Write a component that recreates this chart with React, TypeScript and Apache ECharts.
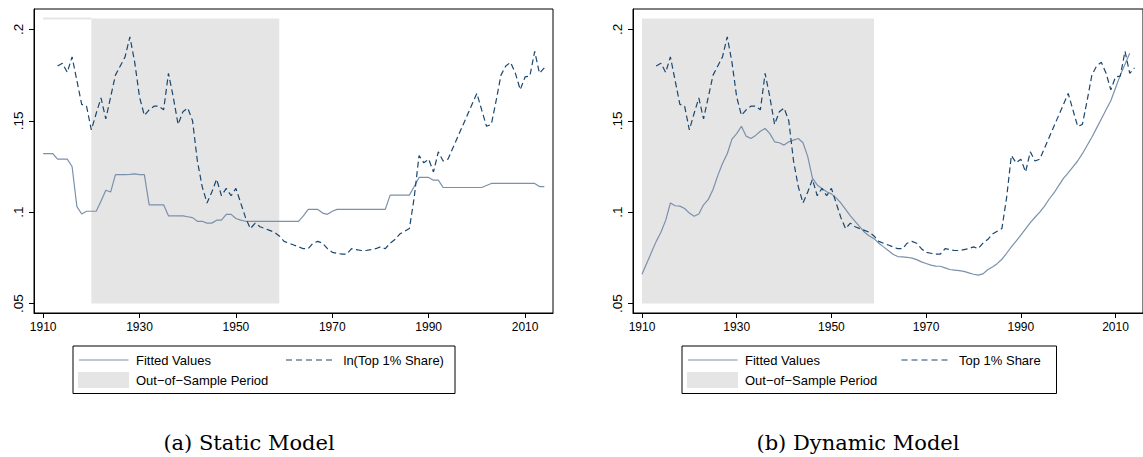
import React, { useEffect, useRef } from 'react';
import * as echarts from 'echarts';

// years and series
const fitYears = Array.from({ length: 105 }, (_, i) => 1910 + i); // 1910..2014
const fittedStatic = [
  0.132, 0.132, 0.132, 0.129, 0.129, 0.129, 0.125, 0.103, 0.099, 0.1005,
  0.1005, 0.1005, 0.106, 0.112, 0.111, 0.1205, 0.1205, 0.1205, 0.1207, 0.121,
  0.1205, 0.1205, 0.104, 0.104, 0.104, 0.104, 0.098, 0.098, 0.098, 0.098,
  0.0975, 0.097, 0.095, 0.095, 0.094, 0.094, 0.0956, 0.0956, 0.0988, 0.0988,
  0.0965, 0.0956, 0.095, 0.095, 0.095, 0.095, 0.095, 0.095, 0.095, 0.095,
  0.095, 0.095, 0.095, 0.095, 0.098, 0.1015, 0.1015, 0.1015, 0.0995, 0.0988,
  0.1005, 0.1015, 0.1015, 0.1015, 0.1015, 0.1015, 0.1015, 0.1015, 0.1015, 0.1015,
  0.1015, 0.1015, 0.1093, 0.1093, 0.1093, 0.1093, 0.1093, 0.114, 0.119, 0.119,
  0.119, 0.1175, 0.1175, 0.1135, 0.1135, 0.1135, 0.1135, 0.1135, 0.1135, 0.1135,
  0.1135, 0.1135, 0.1146, 0.1157, 0.1157, 0.1157, 0.1157, 0.1157, 0.1157, 0.1157,
  0.1157, 0.1157, 0.1157, 0.114, 0.114,
];
// 1910..2013
const fittedDynamic = [
  0.066, 0.072, 0.078, 0.084, 0.089, 0.0955, 0.105, 0.1035, 0.1033, 0.102,
  0.0995, 0.0978, 0.099, 0.104, 0.107, 0.1124, 0.12, 0.1266, 0.132, 0.14,
  0.143, 0.147, 0.1416, 0.1403, 0.142, 0.1443, 0.1458, 0.143, 0.1385, 0.138,
  0.1367, 0.1385, 0.1394, 0.1403, 0.138, 0.1304, 0.1186, 0.1149, 0.113, 0.1112,
  0.11, 0.1078, 0.105, 0.1015, 0.098, 0.095, 0.092, 0.089, 0.087, 0.0855,
  0.083, 0.081, 0.079, 0.077, 0.0757, 0.0755, 0.0753, 0.0748, 0.074, 0.0728,
  0.0719, 0.071, 0.0705, 0.0704, 0.0695, 0.0686, 0.0683, 0.068, 0.0676, 0.0668,
  0.066, 0.0655, 0.0662, 0.0685, 0.07, 0.0718, 0.0742, 0.0775, 0.081, 0.0842,
  0.0874, 0.0908, 0.0943, 0.0972, 0.1, 0.1033, 0.1072, 0.1105, 0.1145, 0.1185,
  0.1215, 0.1248, 0.128, 0.132, 0.1365, 0.141, 0.146, 0.151, 0.156, 0.161,
  0.168, 0.175, 0.181, 0.187,
];
const shareStartYear = 1913;
// 1913..2014
const top1Share = [
  0.18, 0.1815, 0.1765, 0.185, 0.172, 0.159, 0.158,
  0.145, 0.154, 0.1625, 0.151, 0.163, 0.175, 0.18, 0.185, 0.196, 0.182,
  0.163, 0.153, 0.156, 0.158, 0.158, 0.156, 0.176, 0.163, 0.148, 0.155,
  0.157, 0.15, 0.128, 0.114, 0.105, 0.111, 0.118, 0.109, 0.113, 0.109,
  0.113, 0.105, 0.097, 0.091, 0.094, 0.092, 0.091, 0.09, 0.089, 0.087,
  0.084, 0.083, 0.082, 0.081, 0.08, 0.08, 0.083, 0.084, 0.083, 0.08,
  0.078, 0.0775, 0.077, 0.077, 0.08, 0.0795, 0.079, 0.079, 0.0795, 0.08,
  0.081, 0.08, 0.083, 0.085, 0.088, 0.0895, 0.091, 0.108, 0.131, 0.127,
  0.129, 0.122, 0.133, 0.128, 0.129, 0.135, 0.141, 0.147, 0.153, 0.159,
  0.165, 0.156, 0.147, 0.148, 0.161, 0.175, 0.18, 0.182, 0.176, 0.167,
  0.174, 0.1745, 0.188, 0.176, 0.179,
];

const xTicks = [1910, 1930, 1950, 1970, 1990, 2010];
const yTicks = [0.05, 0.1, 0.15, 0.2];
const yTickLabels = ['.05', '.1', '.15', '.2'];

// out-of-sample shading: [start year, end year, bottom, top]
const shadeStatic = [1920, 1959, 0.05, 0.206];
const shadeDynamic = [1910, 1959, 0.05, 0.206];

const NAVY = '#1a476f';
const FIT = '#7b91ab';
const SHADE = '#e5e5e5';
const SANS = 'Liberation Sans, Arial, sans-serif';

const toPairs = (start: number, vals: number[]) => vals.map((v, i) => [start + i, v]);

const makeAxes = (gi: number) => ({
  x: {
    type: 'value',
    gridIndex: gi,
    min: 1908.1,
    max: 2015.8,
    splitLine: { show: false },
    axisLine: { lineStyle: { color: '#000', width: 1 } },
    axisTick: { customValues: xTicks, length: 5, lineStyle: { color: '#000' } },
    axisLabel: {
      customValues: xTicks,
      color: '#000',
      fontSize: 12,
      fontFamily: SANS,
      margin: 8,
      formatter: (v: number) => String(Math.round(v)),
    },
  },
  y: {
    type: 'value',
    gridIndex: gi,
    min: 0.0448,
    max: 0.2112,
    splitLine: { show: false },
    axisLine: { show: true, lineStyle: { color: '#000', width: 1 } },
    axisTick: { customValues: yTicks, length: 5, lineStyle: { color: '#000' } },
    axisLabel: {
      customValues: yTicks,
      rotate: 90,
      color: '#000',
      fontSize: 13.5,
      fontFamily: SANS,
      margin: 9,
      formatter: (v: number) => {
        const k = yTicks.findIndex((t) => Math.abs(t - v) < 1e-6);
        return k >= 0 ? yTickLabels[k] : '';
      },
    },
  },
});

const legend = (x0: number, w: number, dashX: number, dashText: string) => {
  const y0 = 346;
  const txt = (x: number, y: number, s: string) => ({
    type: 'text',
    x,
    y,
    style: { text: s, fill: '#000', font: `13px ${SANS}`, verticalAlign: 'middle', textAlign: 'left' },
  });
  return [
    { type: 'rect', shape: { x: x0, y: y0, width: w, height: 47.5 }, style: { fill: '#fff', stroke: '#000', lineWidth: 1 } },
    { type: 'line', shape: { x1: x0 + 6, y1: y0 + 14, x2: x0 + 55.5, y2: y0 + 14 }, style: { stroke: FIT, lineWidth: 1.2 } },
    txt(x0 + 63, y0 + 14.5, 'Fitted Values'),
    { type: 'line', shape: { x1: x0 + dashX, y1: y0 + 14, x2: x0 + dashX + 50, y2: y0 + 14 }, style: { stroke: NAVY, lineWidth: 1.2, lineDash: [6, 4] } },
    txt(x0 + dashX + 57.5, y0 + 14.5, dashText),
    { type: 'rect', shape: { x: x0 + 5, y: y0 + 26, width: 51, height: 16 }, style: { fill: SHADE } },
    txt(x0 + 63, y0 + 34.5, 'Out\u2212of\u2212Sample Period'),
  ];
};

const caption = (x: number, s: string) => ({
  type: 'text',
  x,
  y: 443,
  style: { text: s, fill: '#000', font: '21px "DejaVu Serif", serif', textAlign: 'center', verticalAlign: 'middle' },
});

const shadeArea = (s: number[]) => ({
  silent: true,
  itemStyle: { color: SHADE },
  data: [[{ coord: [s[0], s[2]] }, { coord: [s[1], s[3]] }]],
});

const App: React.FC = () => {
  const chartRef = useRef<HTMLDivElement>(null);

  useEffect(() => {
    if (!chartRef.current) return;
    const chart = echarts.init(chartRef.current, null, { renderer: 'svg' });
    const a0 = makeAxes(0);
    const a1 = makeAxes(1);
    const gridBase = { top: 9, width: 519, height: 304, show: true, borderColor: '#000', borderWidth: 1 };

    chart.setOption({
      animation: false,
      backgroundColor: '#fff',
      grid: [
        { ...gridBase, left: 34 },
        { ...gridBase, left: 633 },
      ],
      xAxis: [a0.x, a1.x],
      yAxis: [a0.y, a1.y],
      series: [
        // static model
        {
          name: 'strip',
          type: 'line',
          xAxisIndex: 0,
          yAxisIndex: 0,
          data: [[shadeDynamic[0], shadeStatic[3]], [shadeStatic[0], shadeStatic[3]]],
          symbol: 'none',
          lineStyle: { color: SHADE, width: 2 },
          silent: true,
        },
        {
          name: 'Fitted Values',
          type: 'line',
          xAxisIndex: 0,
          yAxisIndex: 0,
          data: toPairs(fitYears[0], fittedStatic),
          symbol: 'none',
          lineStyle: { color: FIT, width: 1.2 },
          markArea: shadeArea(shadeStatic),
        },
        {
          name: 'ln(Top 1% Share)',
          type: 'line',
          xAxisIndex: 0,
          yAxisIndex: 0,
          data: toPairs(shareStartYear, top1Share),
          symbol: 'none',
          lineStyle: { color: NAVY, width: 1.2, type: [6, 3.5] },
        },
        // dynamic model
        {
          name: 'Fitted Values (dynamic)',
          type: 'line',
          xAxisIndex: 1,
          yAxisIndex: 1,
          data: toPairs(fitYears[0], fittedDynamic),
          symbol: 'none',
          lineStyle: { color: FIT, width: 1.2 },
          markArea: shadeArea(shadeDynamic),
        },
        {
          name: 'Top 1% Share',
          type: 'line',
          xAxisIndex: 1,
          yAxisIndex: 1,
          data: toPairs(shareStartYear, top1Share),
          symbol: 'none',
          lineStyle: { color: NAVY, width: 1.2, type: [6, 3.5] },
        },
      ],
      graphic: [
        ...legend(73, 382, 213, 'ln(Top 1% Share)'),
        ...legend(682, 374.5, 219.5, 'Top 1% Share'),
        caption(249, '(a) Static Model'),
        caption(858, '(b) Dynamic Model'),
      ],
    });

    return () => chart.dispose();
  }, []);

  return (
    <div
      ref={chartRef}
      style={{ position: 'absolute', left: 0, top: 0, width: 1143, height: 457, background: '#fff', overflow: 'hidden' }}
    />
  );
};

export default App;
